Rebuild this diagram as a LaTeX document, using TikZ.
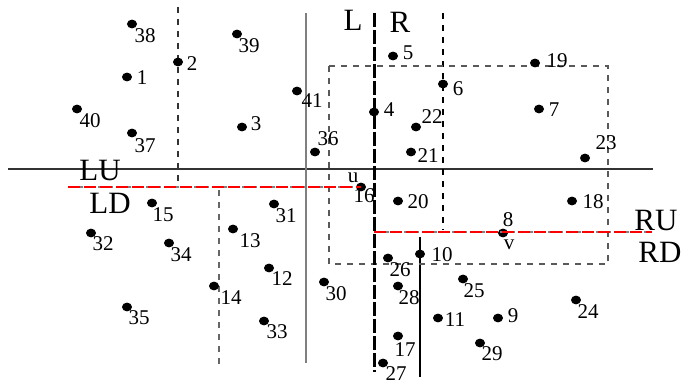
\documentclass[tikz,border=0pt]{standalone}
\usepackage{fontspec}
\setmainfont{Liberation Serif}
\usetikzlibrary{shapes.geometric}
\begin{document}
\begin{tikzpicture}[x=0.5pt,y=-0.5pt,
  pt/.style={ellipse,fill=black,inner sep=0pt,minimum width=5pt,minimum height=4.4pt},
  lbl/.style={inner sep=0pt,font=\fontsize{10.5pt}{11pt}\selectfont},
  big/.style={inner sep=0pt,font=\fontsize{15.5pt}{16pt}\selectfont},
  thinline/.style={line width=0.6pt},
  redline/.style={red,line width=1.3pt,dash pattern=on 6pt off 2pt}]
\useasboundingbox (0,0) rectangle (688,384);
% lines
\draw[thinline,black!80] (8,169) -- (653,169);
\draw[thinline,black!80,dashed] (178,7) -- (178,183);
\draw[thinline,gray] (306,13) -- (306,363);
\draw[thinline,gray!80!black,dashed] (219,190) -- (219,367);
\draw[thinline,black,dashed] (443,13) -- (443,230);
\draw[thinline,black] (420,237) -- (420,377);
\draw[thinline,gray!70!black,dashed] (329,66) rectangle (608,264);
\draw[line width=1.5pt,dash pattern=on 7pt off 1.5pt] (374,13) -- (374,372);
% points
\node[pt] (p38) at (132,24) {}; \node[lbl] at (145,36) {38};
\node[pt] (p2) at (178,62) {}; \node[lbl] at (192,64) {2};
\node[pt] (p1) at (127,77) {}; \node[lbl] at (142,78) {1};
\node[pt] (p40) at (77,109) {}; \node[lbl] at (90,121) {40};
\node[pt] (p37) at (132,133) {}; \node[lbl] at (145,146) {37};
\node[pt] (p39) at (237,34) {}; \node[lbl] at (249,46) {39};
\node[pt] (p5) at (393,56) {}; \node[lbl] at (408,53) {5};
\node[pt] (p6) at (443,84) {}; \node[lbl] at (458,89) {6};
\node[pt] (p41) at (297,91) {}; \node[lbl] at (312,101) {41};
\node[pt] (p4) at (374,112) {}; \node[lbl] at (389,110) {4};
\node[pt] (p3) at (242,127) {}; \node[lbl] at (256,124) {3};
\node[pt] (p22) at (416,127) {}; \node[lbl] at (432,117) {22};
\node[pt] (p36) at (315,152) {}; \node[lbl] at (328,139) {36};
\node[pt] (p21) at (411,152) {}; \node[lbl] at (428,156) {21};
\node[pt] (p19) at (535,63) {}; \node[lbl] at (557,61) {19};
\node[pt] (p7) at (539,109) {}; \node[lbl] at (554,110) {7};
\node[pt] (p23) at (585,158) {}; \node[lbl] at (606,143) {23};
\node[pt] (p18) at (572,201) {}; \node[lbl] at (593,202) {18};
\node[pt] (p16) at (361,187) {}; \node[lbl] at (364,196) {16};
\node[lbl] at (353,178) {u};
\node[pt] (p15) at (152,203) {}; \node[lbl] at (163,215) {15};
\node[pt] (p32) at (91,233) {}; \node[lbl] at (103,244) {32};
\node[pt] (p34) at (169,243) {}; \node[lbl] at (181,255) {34};
\node[pt] (p14) at (214,286) {}; \node[lbl] at (231,298) {14};
\node[pt] (p35) at (127,307) {}; \node[lbl] at (139,318) {35};
\node[pt] (p31) at (274,204) {}; \node[lbl] at (286,216) {31};
\node[pt] (p13) at (233,229) {}; \node[lbl] at (250,241) {13};
\node[pt] (p12) at (269,268) {}; \node[lbl] at (282,279) {12};
\node[pt] (p30) at (324,282) {}; \node[lbl] at (336,294) {30};
\node[pt] (p33) at (264,321) {}; \node[lbl] at (277,332) {33};
\node[pt] (p20) at (398,201) {}; \node[lbl] at (418,202) {20};
\node[pt] (p10) at (420,254) {}; \node[lbl] at (442,255) {10};
\node[pt] (p26) at (388,258) {}; \node[lbl] at (400,270) {26};
\node[pt] (p28) at (398,286) {}; \node[lbl] at (409,298) {28};
\node[pt] (p11) at (438,318) {}; \node[lbl] at (455,320) {11};
\node[pt] (p17) at (398,336) {}; \node[lbl] at (405,350) {17};
\node[pt] (p27) at (383,363) {}; \node[lbl] at (396,374) {27};
\node[pt] (p25) at (463,279) {}; \node[lbl] at (474,291) {25};
\node[pt] (p24) at (576,300) {}; \node[lbl] at (588,312) {24};
\node[pt] (p9) at (498,318) {}; \node[lbl] at (513,316) {9};
\node[pt] (p29) at (480,343) {}; \node[lbl] at (492,354) {29};
\node[pt] (p8) at (503,233) {}; \node[lbl] at (508,220) {8};
\node[lbl] at (509,245) {v};
% red lines
\coordinate (redL) at (68,187);
\coordinate (redR0) at (374,232);
\coordinate (redR1) at (652,232);
\draw[gray,line width=1.3pt,dash pattern=on 1.5pt off 1.5pt] (redL) -- (p16.center);
\draw[redline] (redL) -- (p16.center);
\draw[gray,line width=1.3pt,dash pattern=on 1.5pt off 1.5pt] (redR0) -- (redR1);
\draw[redline] (redR0) -- (redR1);
% big labels
\node[big] (L) at (353,20) {L};
\node[big] (R) at (400,22) {R};
\node[big] (LU) at (100,171) {LU};
\node[big] (LD) at (110,203) {LD};
\node[big] (RU) at (656,221) {RU};
\node[big] (RD) at (660,252) {RD};
\end{tikzpicture}
\end{document}
